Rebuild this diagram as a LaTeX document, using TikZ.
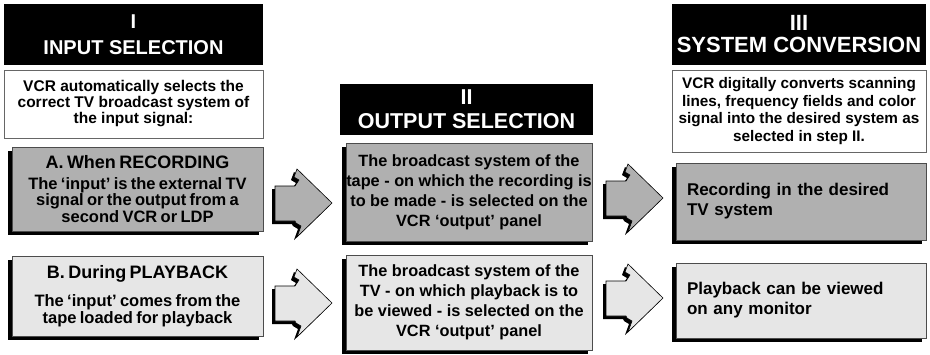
\documentclass[tikz,border=0pt]{standalone}
\usepackage{fontspec}
\setmainfont{Liberation Sans}
\usetikzlibrary{shadows}
\definecolor{recgray}{RGB}{176,176,176}
\definecolor{playgray}{RGB}{230,230,230}
\newcommand{\fs}[2]{\fontsize{#1}{#2}\selectfont\bfseries}
\newcommand{\arrowshape}{(-57,-17) -- (-37,-17) -- (-33,-23) -- (-38,-26) -- (-35,-34) -- (0,0)
  -- (-35,34) -- (-31,23) -- (-36,20) -- (-37,18) -- (-57,18) -- cycle}
\tikzset{
  hdr/.style={fill=black, text=white, align=center, inner sep=0pt},
  note/.style={draw=black!60, fill=white, line width=.8pt, align=center, inner sep=0pt},
  panel/.style={draw=black!70, line width=.6pt, inner sep=0pt,
    drop shadow={shadow xshift=-4pt, shadow yshift=-4pt, fill=black, opacity=1}},
  rec/.style={panel, fill=recgray},
  play/.style={panel, fill=playgray},
  barrow/.pic={
    \fill[black, shift={(-3,3)}] \arrowshape;
    \filldraw[pic actions, draw=black, line width=.6pt] \arrowshape;
  }
}
\begin{document}
\begin{tikzpicture}[x=1pt, y=-1pt]
\useasboundingbox[fill=white] (0,0) rectangle (930,354);
% column I
\node[hdr, minimum width=259pt, minimum height=61pt, font=\fs{20}{26}] (hdrI) at (133.5,34.5)
  {I\\INPUT SELECTION};
\node[note, minimum width=259pt, minimum height=68pt, font=\fs{15.5}{16}] (noteI) at (133.5,104)
  {VCR automatically selects the\\correct TV broadcast system of\\the input signal:};
\node[rec, minimum width=251pt, minimum height=84pt, text width=249pt, align=center] (recI) at (137.5,189)
  {{\fs{18}{18}A. When RECORDING\par}\vspace{8pt}%
   {\fs{16.5}{12}The `input' is the external TV\\signal or the output from a\\second VCR or LDP\par}};
\node[play, minimum width=251pt, minimum height=80pt, text width=249pt, align=center] (playI) at (137.5,296)
  {{\fs{18}{18}B. During PLAYBACK\par}\vspace{11pt}%
   {\fs{16.5}{17}The `input' comes from the\\tape loaded for playback\par}};
% column II
\node[hdr, minimum width=253pt, minimum height=51pt, font=\fs{21.5}{24}] (hdrII) at (466.5,109.5)
  {II\\OUTPUT SELECTION};
\node[rec, minimum width=246pt, minimum height=98pt, align=center, font=\fs{16.3}{20}] (recII) at (469,192)
  {The broadcast system of the\\tape - on which the recording is\\to be made - is selected on the\\VCR `output' panel};
\node[play, minimum width=246pt, minimum height=95pt, align=center, font=\fs{16.3}{20}] (playII) at (469,302.5)
  {The broadcast system of the\\TV - on which playback is to\\be viewed - is selected on the\\VCR `output' panel};
% column III
\node[hdr, minimum width=254pt, minimum height=61pt, font=\fs{22}{22}] (hdrIII) at (799,34.5)
  {III\\SYSTEM CONVERSION};
\node[note, minimum width=254pt, minimum height=82pt, font=\fs{15.3}{17.5}] (noteIII) at (799,111)
  {VCR digitally converts scanning\\lines, frequency fields and color\\signal into the desired system as\\selected in step II.};
\node[rec, minimum width=250pt, minimum height=77pt, text width=228pt, align=left, font=\fs{17}{20}] (recIII) at (801,201.5)
  {Recording in the desired\\TV system};
\node[play, minimum width=250pt, minimum height=75pt, text width=228pt, align=left, font=\fs{17}{20}] (playIII) at (801,300.5)
  {Playback can be viewed\\on any monitor};
% arrows
\pic[fill=recgray] at (332,203) {barrow};
\pic[fill=playgray] at (332,303) {barrow};
\pic[fill=recgray] at (663,198) {barrow};
\pic[fill=playgray] at (663,298) {barrow};
\end{tikzpicture}
\end{document}
